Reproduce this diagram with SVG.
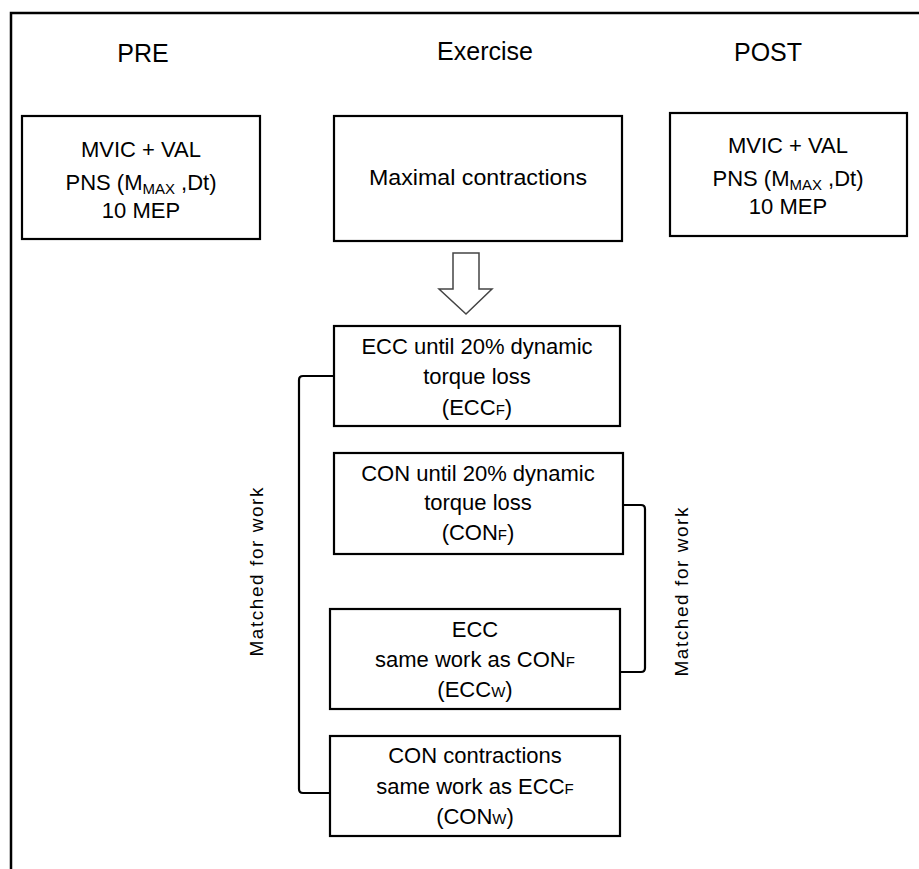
<svg xmlns="http://www.w3.org/2000/svg" width="919" height="869" viewBox="0 0 919 869">
<style>
text{font-family:"Liberation Sans",Arial,sans-serif;fill:#000;text-anchor:middle}
.t{font-size:25px}
.b{font-size:22px}
.s{font-size:15px}
.v{font-size:19px}
.box{fill:#fff;stroke:#000;stroke-width:2.2}
.con{fill:none;stroke:#000;stroke-width:2.2}
</style>
<rect width="919" height="869" fill="#fff"/>
<path d="M11,869 L11,13 L919,13" fill="none" stroke="#000" stroke-width="2.5"/>
<g id="titles">
<text class="t" x="143" y="62">PRE</text>
<text class="t" x="485" y="60">Exercise</text>
<text class="t" x="768" y="61">POST</text>
</g>
<g id="pre">
<rect class="box" x="22" y="116" width="238" height="123"/>
<text class="b" x="141" y="157">MVIC + VAL</text>
<text class="b" x="141" y="190">PNS (M<tspan class="s" dy="4">MAX</tspan><tspan dy="-4"> ,Dt)</tspan></text>
<text class="b" x="141" y="218">10 MEP</text>
</g>
<g id="exercise">
<rect class="box" x="334" y="116" width="288" height="125"/>
<text class="b" x="478" y="185" textLength="218" lengthAdjust="spacingAndGlyphs">Maximal contractions</text>
</g>
<g id="post">
<rect class="box" x="670" y="113" width="237" height="123"/>
<text class="b" x="788" y="153">MVIC + VAL</text>
<text class="b" x="788" y="186">PNS (M<tspan class="s" dy="4">MAX</tspan><tspan dy="-4"> ,Dt)</tspan></text>
<text class="b" x="788" y="214">10 MEP</text>
</g>
<g id="eccf">
<rect class="box" x="334" y="326" width="286" height="100"/>
<text class="b" x="477" y="354">ECC until 20% dynamic</text>
<text class="b" x="477" y="384">torque loss</text>
<text class="b" x="477" y="415">(ECC<tspan class="s">F</tspan>)</text>
</g>
<g id="conf">
<rect class="box" x="334" y="453" width="289" height="101"/>
<text class="b" x="478" y="481">CON until 20% dynamic</text>
<text class="b" x="478" y="510">torque loss</text>
<text class="b" x="478" y="540">(CON<tspan class="s">F</tspan>)</text>
</g>
<g id="eccw">
<rect class="box" x="330" y="609" width="290" height="100"/>
<text class="b" x="475" y="637">ECC</text>
<text class="b" x="475" y="667">same work as CON<tspan class="s">F</tspan></text>
<text class="b" x="475" y="697">(ECC<tspan class="s">W</tspan>)</text>
</g>
<g id="conw">
<rect class="box" x="330" y="736" width="290" height="100"/>
<text class="b" x="475" y="763">CON contractions</text>
<text class="b" x="475" y="794">same work as ECC<tspan class="s">F</tspan></text>
<text class="b" x="475" y="824">(CON<tspan class="s">W</tspan>)</text>
</g>
<g id="connectors">
<polygon points="453,253 479,253 479,289 492,289 466,314 439,289 453,289" fill="#fff" stroke="#444" stroke-width="1.5"/>
<path class="con" d="M334,376 L303,376 Q299,376 299,380 L299,789 Q299,793 303,793 L330,793"/>
<path class="con" d="M623,505 L641,505 Q645,505 645,509 L645,668 Q645,672 641,672 L620,672"/>
</g>
<g id="labels">
<text class="v" transform="translate(263,572) rotate(-90)" textLength="169" lengthAdjust="spacing">Matched for work</text>
<text class="v" transform="translate(688,592) rotate(-90)" textLength="169" lengthAdjust="spacing">Matched for work</text>
</g>
</svg>
